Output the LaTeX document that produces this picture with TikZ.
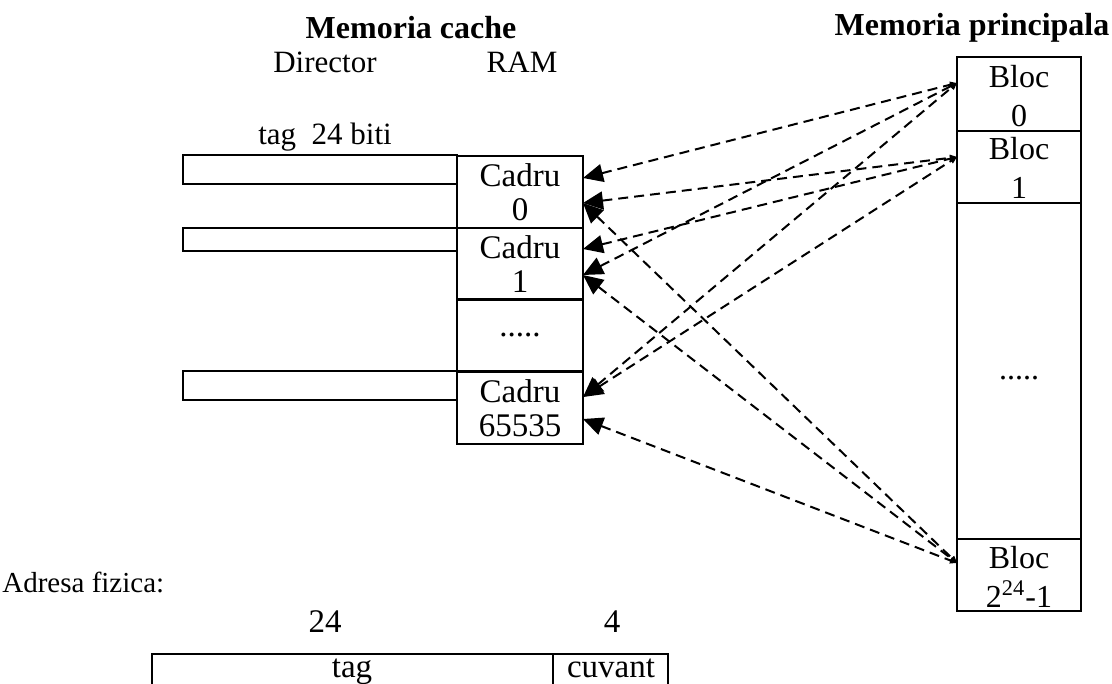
\documentclass[tikz,border=0pt]{standalone}
\usepackage{fontspec}
\setmainfont{Liberation Serif}
\usetikzlibrary{arrows.meta}
\begin{document}
\begin{tikzpicture}[x=0.5pt,y=-0.5pt,
  every node/.style={font=\fontsize{15.5pt}{17.5pt}\selectfont, inner sep=0pt, align=center},
  title/.style={font=\fontsize{16pt}{18pt}\selectfont\bfseries},
  celltext/.style={font=\fontsize{16.5pt}{17pt}\selectfont},
  blktext/.style={font=\fontsize{16pt}{19.5pt}\selectfont},
  fieldtext/.style={font=\fontsize{16.5pt}{18pt}\selectfont, anchor=base},
  frame/.style={draw, line width=1.1pt},
  tagbox/.style={frame, minimum width=137pt},
  cell/.style={frame, celltext, minimum width=63pt, minimum height=36pt},
  blk/.style={frame, blktext, minimum width=62pt},
  conn/.style={dash pattern=on 5pt off 3pt, line width=1pt,
    {Triangle[length=10pt,width=9pt]}-{Triangle[length=3.5pt,width=3pt]}}
]
\useasboundingbox (0,0) rectangle (1112,684);

% headings
\node[title] (hcache) at (411,28) {Memoria cache};
\node[title] (hmain) at (972,28) {Memoria principala};
\node (hdir) at (325,62) {Director};
\node (hram) at (522,62) {RAM};
\node (htag) at (325,137) {tag\ \ 24 biti};

% directory: tag entries
\node[tagbox, minimum height=14.5pt] (t0) at (320,169.5) {};
\node[tagbox, minimum height=11.5pt] (t1) at (320,239.5) {};
\node[tagbox, minimum height=14.5pt] (tN) at (320,385.5) {};

% cache frames
\node[cell] (c0) at (520,192) {Cadru\\0};
\node[cell] (c1) at (520,264) {Cadru\\1};
\node[cell] (cd) at (520,335) {.....};
\node[cell] (cN) at (520,408) {Cadru\\65535};

% main memory blocks
\node[blk, minimum height=37pt] (b0) at (1019,94) {};
\node[blktext] (b0t) at (1019,96) {Bloc\\0};
\node[blk, minimum height=36pt] (b1) at (1019,167) {};
\node[blktext] (b1t) at (1019,168) {Bloc\\1};
\node[blk, minimum height=168pt] (bd) at (1019,371) {};
\node[blktext] (bdt) at (1019,378) {.....};
\node[blk, minimum height=36pt] (bN) at (1019,575) {};
\node[blktext] (bNt) at (1019,577) {Bloc\\2\textsuperscript{24}-1};

% connector end points
\coordinate (c0a) at (583,178);
\coordinate (c0b) at (583,203);
\coordinate (c1a) at (583,249);
\coordinate (c1b) at (583,275);
\coordinate (cNa) at (583,397);
\coordinate (cNb) at (583,419);
\coordinate (m0) at (957,83);
\coordinate (m1) at (957,157);
\coordinate (mN) at (957,563);

% mapping of blocks onto frames
\draw[conn] (c0a) -- (m0);
\draw[conn] (c1b) -- (m0);
\draw[conn] (cNa) -- (m0);
\draw[conn] (c0b) -- (m1);
\draw[conn] (c1a) -- (m1);
\draw[conn] (cNa) -- (m1);
\draw[conn] (c0b) -- (mN);
\draw[conn] (c1b) -- (mN);
\draw[conn] (cNb) -- (mN);

% physical address
\node[anchor=west, font=\fontsize{14.5pt}{17pt}\selectfont] (haddr) at (2,582) {Adresa fizica:};
\node[fieldtext] (n24) at (325,632) {24};
\node[fieldtext] (n4) at (612,632) {4};
\coordinate (aL) at (152,654);
\coordinate (aM) at (553,654);
\coordinate (aR) at (668,654);
\draw[line width=1.1pt] (152,700) -- (aL) -- (aR) -- (668,700);
\draw[line width=1.1pt] (aM) -- (553,700);
\node[fieldtext] (ftag) at (352,677) {tag};
\node[fieldtext] (fword) at (611,677) {cuvant};
\end{tikzpicture}
\end{document}
